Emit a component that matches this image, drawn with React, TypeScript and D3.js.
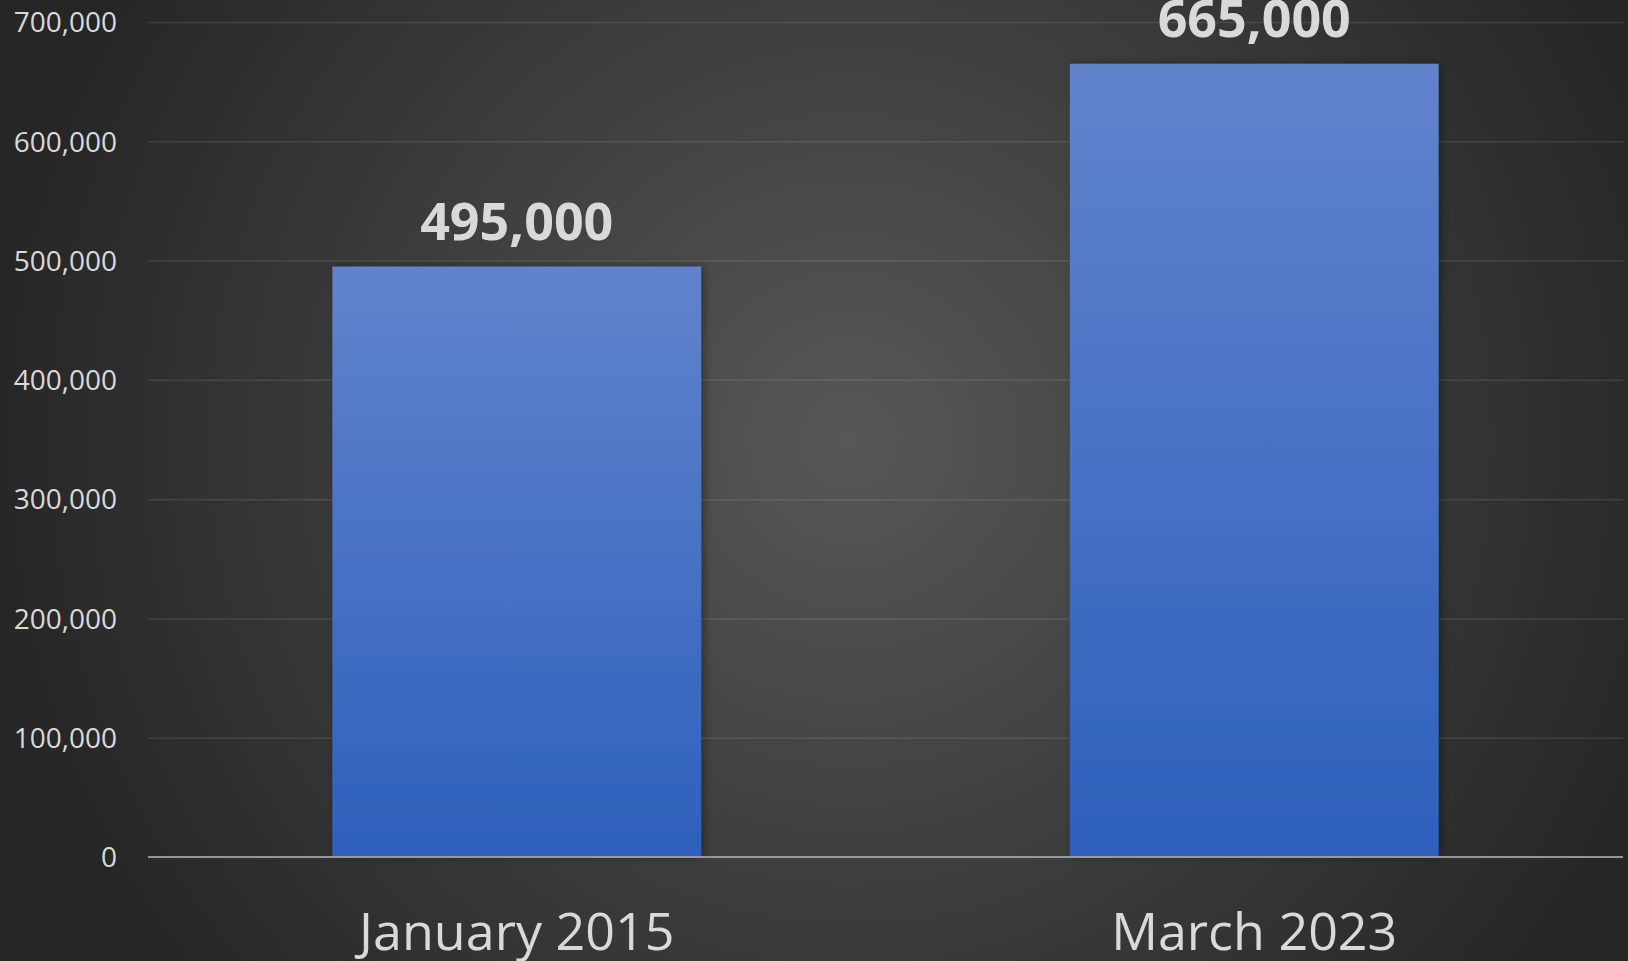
import { useEffect, useRef } from 'react'
import * as d3 from 'd3'

const categories = ['January 2015', 'March 2023']
const values = [495000, 665000]
const yTicks = [0, 100000, 200000, 300000, 400000, 500000, 600000, 700000]

const W = 1628
const H = 961
const MARGIN = { top: 22, right: 5, bottom: 104, left: 148 }
const FONT = '"Open Sans", "Noto Sans", sans-serif'
const TEXT = '#d9d9d9'

export default function App() {
  const svgRef = useRef<SVGSVGElement>(null)

  useEffect(() => {
    const svg = svgRef.current
    if (!svg) return
    document.body.style.margin = '0'

    const root = d3.select(svg)
    root.selectAll('*').remove()

    const innerW = W - MARGIN.left - MARGIN.right
    const innerH = H - MARGIN.top - MARGIN.bottom

    const defs = root.append('defs')
    const bg = defs.append('radialGradient')
      .attr('id', 'bg')
      .attr('gradientUnits', 'userSpaceOnUse')
      .attr('cx', 850).attr('cy', 440).attr('r', 860)
    bg.append('stop').attr('offset', '0%').attr('stop-color', '#575757')
    bg.append('stop').attr('offset', '100%').attr('stop-color', '#262626')

    const barGrad = defs.append('linearGradient')
      .attr('id', 'bar')
      .attr('x1', 0).attr('y1', 0).attr('x2', 0).attr('y2', 1)
    barGrad.append('stop').attr('offset', '0%').attr('stop-color', '#6183cc')
    barGrad.append('stop').attr('offset', '100%').attr('stop-color', '#2d60bc')

    const shadow = defs.append('filter').attr('id', 'shadow')
      .attr('x', '-10%').attr('y', '-10%').attr('width', '125%').attr('height', '120%')
    shadow.append('feDropShadow')
      .attr('dx', 3).attr('dy', 0).attr('stdDeviation', 5)
      .attr('flood-color', '#000').attr('flood-opacity', 0.35)

    root.append('rect').attr('width', W).attr('height', H).attr('fill', 'url(#bg)')

    const g = root.append('g').attr('transform', `translate(${MARGIN.left},${MARGIN.top})`)

    const x = d3.scaleBand<string>()
      .domain(categories)
      .range([0, innerW])
      .paddingInner(0.5)
      .paddingOuter(0.25)

    const y = d3.scaleLinear().domain([0, 700000]).range([innerH, 0])

    // gridlines + y labels
    g.append('g')
      .call(d3.axisLeft(y).tickValues(yTicks).tickSize(-innerW).tickPadding(31)
        .tickFormat(d => d3.format(',')(d as number)))
      .call(sel => sel.select('.domain').remove())
      .call(sel => sel.selectAll('line').attr('stroke', 'rgba(255,255,255,0.1)').attr('stroke-width', 1.5))
      .call(sel => sel.selectAll('text')
        .attr('fill', TEXT).style('font-size', '28px').style('font-family', FONT).attr('dy', '0.35em'))

    // bars
    g.selectAll('rect.bar')
      .data(values)
      .join('rect')
      .attr('class', 'bar')
      .attr('x', (_, i) => x(categories[i]) ?? 0)
      .attr('y', d => y(d))
      .attr('width', x.bandwidth())
      .attr('height', d => innerH - y(d))
      .attr('fill', 'url(#bar)')
      .attr('filter', 'url(#shadow)')

    // zero line
    g.append('line')
      .attr('x1', 0).attr('x2', innerW)
      .attr('y1', y(0)).attr('y2', y(0))
      .attr('stroke', '#a6a6a6').attr('stroke-opacity', 0.85).attr('stroke-width', 2)

    // data labels
    g.selectAll('text.val')
      .data(values)
      .join('text')
      .attr('class', 'val')
      .attr('x', (_, i) => (x(categories[i]) ?? 0) + x.bandwidth() / 2)
      .attr('y', d => y(d) - 27)
      .attr('text-anchor', 'middle')
      .attr('fill', TEXT)
      .style('font-family', FONT)
      .style('font-weight', 700)
      .style('font-size', '52px')
      .text(d => d3.format(',')(d))

    // x labels
    g.selectAll('text.cat')
      .data(categories)
      .join('text')
      .attr('class', 'cat')
      .attr('x', d => (x(d) ?? 0) + x.bandwidth() / 2)
      .attr('y', innerH + 93)
      .attr('text-anchor', 'middle')
      .attr('fill', TEXT)
      .style('font-family', FONT)
      .style('font-size', '52px')
      .text(d => d)
  }, [])

  return (
    <svg ref={svgRef} width={W} height={H} style={{ display: 'block', position: 'absolute', left: 0, top: 0 }} />
  )
}
